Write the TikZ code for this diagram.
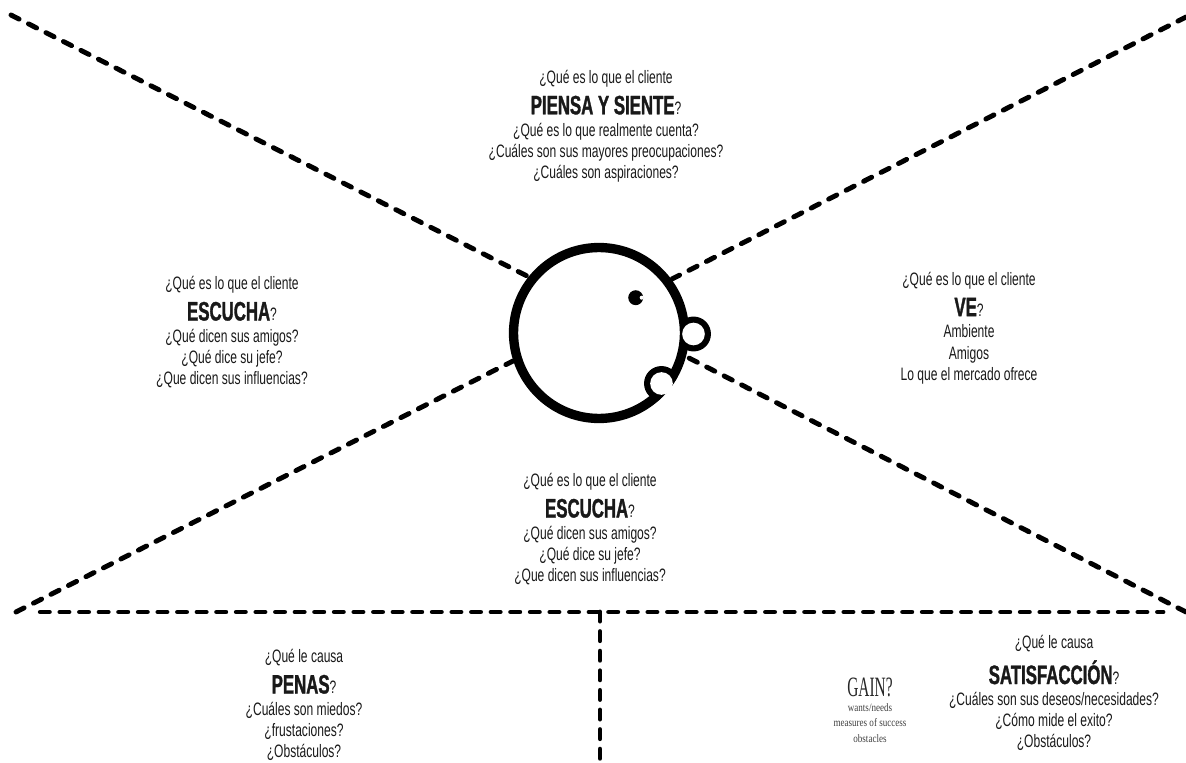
\documentclass[tikz,border=0pt]{standalone}
\usepackage{fontspec}
\setmainfont{Liberation Sans}
\newfontfamily\nar[FakeStretch=0.67]{Liberation Sans}
\newfontfamily\narb[FakeStretch=0.63,FakeBold=1.2]{Liberation Sans Bold}
\newfontfamily\narser[FakeStretch=0.55]{Liberation Serif}
\newfontfamily\widser[FakeStretch=0.80]{Liberation Serif}
\newcommand{\bigw}[1]{{\fontsize{20}{20}\narb #1}}
\tikzset{
  x=0.75pt,y=-0.75pt,
  dash line/.style={line width=3.7pt,line cap=round,dash pattern=on 6.8pt off 7.9pt,black},
  blurb/.style={align=center,font=\fontsize{13.5}{15.8}\selectfont\nar,inner sep=0pt,text=black!90},
  head/.style={circle,draw=black,line width=7pt,fill=white,minimum size=128.2pt,inner sep=0pt},
  bump/.style={circle,fill=black,minimum size=26.2pt,inner sep=0pt},
  bump hole/.style={circle,fill=white,minimum size=17pt,inner sep=0pt},
}
\begin{document}
\begin{tikzpicture}
\useasboundingbox (0,0) rectangle (1186,763);
\coordinate (tl) at (11,15);
\coordinate (tlh) at (531,278);
\coordinate (tr) at (1186,17);
\coordinate (trh) at (672,279);
\coordinate (bl) at (16,612);
\coordinate (blh) at (513,361);
\coordinate (br) at (1186,612);
\coordinate (brh) at (689,358);
\coordinate (hl) at (40.3,612);
\coordinate (hr) at (1163,612);
\coordinate (vt) at (600,612);
\coordinate (vb) at (600,763);
\draw[dash line] (tl) -- (tlh);
\draw[dash line] (tr) -- (trh);
\draw[dash line] (bl) -- (blh);
\draw[dash line] (br) -- (brh);
\draw[dash line] (hl) -- (hr);
\draw[dash line] (vt) -- (vb);
\node[bump] (nose) at (693.5,334) {};
\node[head] (face) at (599,333) {};
\begin{scope}
\clip (599,333) circle (90);
\node[bump] (mouth) at (661.5,383.5) {};
\end{scope}
\node[bump hole] (nosein) at (693.5,334) {};
\node[bump hole] (mouthin) at (661.5,383.5) {};
\node[circle,fill=black,minimum size=11.2pt,inner sep=0pt] (eye) at (635.7,297.7) {};
\node[circle,fill=white,minimum size=3pt,inner sep=0pt] (pupil) at (641.7,297.7) {};
\node[blurb] (t1) at (606,126) {¿Qué es lo que el cliente\\[5.5pt]\bigw{PIENSA Y SIENTE}?\\[0.5pt]¿Qué es lo que realmente cuenta?\\¿Cuáles son sus mayores preocupaciones?\\¿Cuáles son aspiraciones?};
\node[blurb] (t2) at (232,332) {¿Qué es lo que el cliente\\[5.5pt]\bigw{ESCUCHA}?\\[0.5pt]¿Qué dicen sus amigos?\\¿Qué dice su jefe?\\¿Que dicen sus influencias?};
\node[blurb] (t3) at (969,328) {¿Qué es lo que el cliente\\[5.5pt]\bigw{VE}?\\[0.5pt]Ambiente\\Amigos\\Lo que el mercado ofrece};
\node[blurb] (t4) at (590,529) {¿Qué es lo que el cliente\\[5.5pt]\bigw{ESCUCHA}?\\[0.5pt]¿Qué dicen sus amigos?\\¿Qué dice su jefe?\\¿Que dicen sus influencias?};
\node[blurb] (t5) at (304,705) {¿Qué le causa\\[5.5pt]\bigw{PENAS}?\\[0.5pt]¿Cuáles son miedos?\\¿frustaciones?\\¿Obstáculos?};
\node[blurb] (t6) at (1054,693) {¿Qué le causa\\[5.5pt]\bigw{SATISFACCIÓN}?\\[0.5pt]¿Cuáles son sus deseos/necesidades?\\¿Cómo mide el exito?\\¿Obstáculos?};
\node[align=center,inner sep=0pt,text=black!85,font=\fontsize{21}{21}\selectfont\narser] (g1) at (870,687) {GAIN?};
\node[align=center,inner sep=0pt,text=black!75,font=\fontsize{8.5}{11.6}\selectfont\widser] (g2) at (870,723) {wants/needs\\measures of success\\obstacles};
\end{tikzpicture}
\end{document}
